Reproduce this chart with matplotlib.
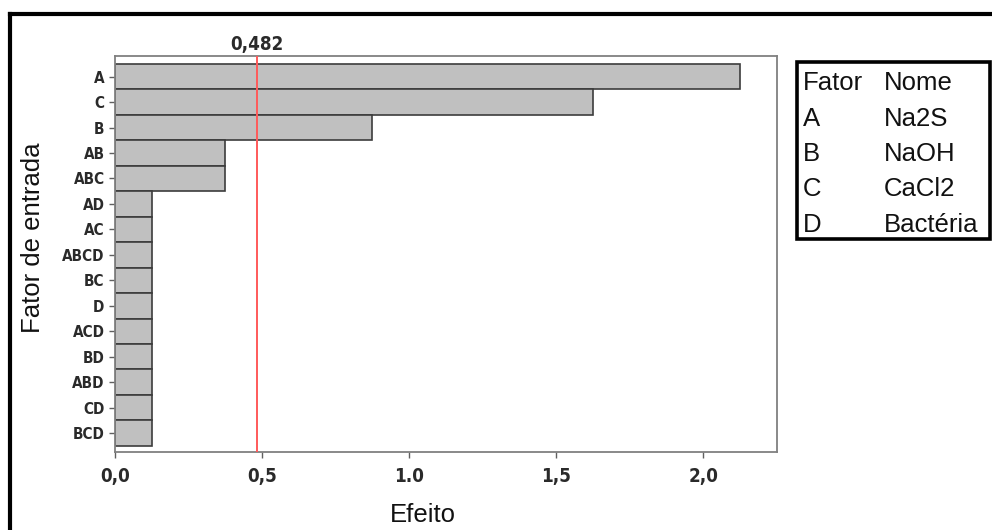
import matplotlib
matplotlib.use('Agg')
import matplotlib.pyplot as plt
from matplotlib.patches import Rectangle
from matplotlib.lines import Line2D

# effects, from top to bottom
termos = ['A', 'C', 'B', 'AB', 'ABC', 'AD', 'AC', 'ABCD', 'BC', 'D',
          'ACD', 'BD', 'ABD', 'CD', 'BCD']
efeitos = [2.125, 1.625, 0.875, 0.375, 0.375, 0.125, 0.125, 0.125, 0.125,
           0.125, 0.125, 0.125, 0.125, 0.125, 0.125]
limite = 0.482
xticks = [0.0, 0.5, 1.0, 1.5, 2.0]
xtick_labels = ['0,0', '0,5', '1.0', '1,5', '2,0']
fator_letras = ['A', 'B', 'C', 'D']
fator_nomes = ['Na2S', 'NaOH', 'CaCl2', 'Bactéria']

W, H = 992, 530
fig = plt.figure(figsize=(W / 100, H / 100), dpi=100)
fig.patch.set_facecolor('white')

def fx(px):
    return px / W

def fy(py):
    return 1 - py / H

ax = fig.add_axes([fx(115), fy(452), fx(777) - fx(115), fy(56) - fy(452)])

pos = list(range(len(termos)))
ax.barh(pos, efeitos, height=1.0, color='#c0c0c0', edgecolor='#3c3c3c',
        linewidth=1.2)
ax.axvline(limite, color='#ff5a5a', linewidth=1.4, zorder=3)

ax.set_xlim(0, 2.25)
ax.set_ylim(14.74, -0.81)

tick_font = dict(family='DejaVu Sans', fontstretch='condensed',
                 weight='bold', color='#2a2a2a')
ax.set_yticks(pos)
ax.set_yticklabels(termos, fontsize=11, **tick_font)
ax.set_xticks(xticks)
ax.set_xticklabels(xtick_labels, fontsize=13.5, **tick_font)
ax.tick_params(axis='y', length=4.5, width=1, color='#606060', pad=3)
ax.tick_params(axis='x', length=4, width=1, color='#606060', pad=7)
for s in ax.spines.values():
    s.set_color('#808080')
    s.set_linewidth(1.3)

ax.text(limite, 1.005, '0,482', transform=ax.get_xaxis_transform(),
        ha='center', va='bottom', fontsize=13.5, **tick_font)

label_font = dict(family='Liberation Sans', fontsize=18.5, color='#111111')
fig.text(fx(423), fy(522), 'Efeito', ha='center', va='baseline', **label_font)
fig.text(fx(33), fy(238), 'Fator de entrada', rotation=90,
         ha='center', va='center', **label_font)

# factor table on the right
fig.add_artist(Rectangle((fx(797), fy(239)), fx(990) - fx(797), fy(62) - fy(239),
                         transform=fig.transFigure, fill=False,
                         edgecolor='black', linewidth=2.6))
rows = [('Fator', 'Nome')] + list(zip(fator_letras, fator_nomes))
for i, (a, b) in enumerate(rows):
    yb = fy(90 + i * 35.5)
    fig.text(fx(803), yb, a, ha='left', va='baseline', **label_font)
    fig.text(fx(884), yb, b, ha='left', va='baseline', **label_font)

# outer frame (top and left edges visible)
fig.add_artist(Line2D([fx(9.5), 1.0], [fy(13.5), fy(13.5)],
                      transform=fig.transFigure, color='black', linewidth=3))
fig.add_artist(Line2D([fx(9.5), fx(9.5)], [fy(13.5), 0.0],
                      transform=fig.transFigure, color='black', linewidth=3))

fig.savefig('out.png', dpi=100)
